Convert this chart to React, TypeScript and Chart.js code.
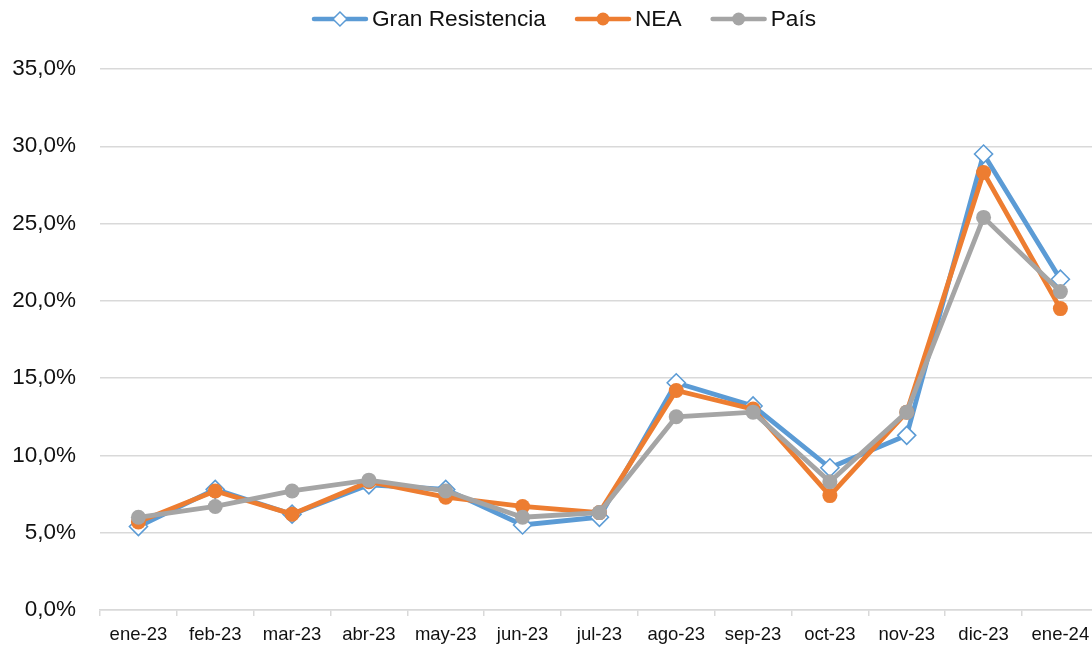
import React, { useEffect, useRef } from "react";
import { Chart, registerables } from "chart.js";

Chart.register(...registerables);

const categories = ["ene-23", "feb-23", "mar-23", "abr-23", "may-23", "jun-23", "jul-23", "ago-23", "sep-23", "oct-23", "nov-23", "dic-23", "ene-24"];
const granResistencia = [5.4, 7.8, 6.2, 8.1, 7.8, 5.5, 6.0, 14.7, 13.2, 9.2, 11.3, 29.5, 21.4];
const nea = [5.7, 7.7, 6.2, 8.3, 7.3, 6.7, 6.3, 14.2, 13.0, 7.4, 12.8, 28.3, 19.5];
const pais = [6.0, 6.7, 7.7, 8.4, 7.7, 6.0, 6.3, 12.5, 12.8, 8.3, 12.8, 25.4, 20.6];
const seriesNames = ["Gran Resistencia", "NEA", "País"];

const FONT = "'Liberation Sans', Arial, sans-serif";
const BLUE = "#5B9BD5";
const ORANGE = "#ED7D31";
const GRAY = "#A5A5A5";
const GRID = "#D9D9D9";
const TEXT = "#111111";

// The plot area of the reference continues a few pixels past the right edge of the picture.
const PLOT_RIGHT = 1098.8;
const PLOT_BOTTOM = 610;

const extendPlotPlugin = {
  id: "extendPlot",
  afterLayout(chart: any) {
    const x = chart.scales.x;
    const y = chart.scales.y;
    const xh = x.bottom - x.top;
    x.right = PLOT_RIGHT;
    x.width = x.right - x.left;
    x.top = PLOT_BOTTOM;
    x.bottom = PLOT_BOTTOM + xh;
    x.configure();
    y.bottom = PLOT_BOTTOM;
    y.height = y.bottom - y.top;
    y.configure();
    chart.chartArea.right = PLOT_RIGHT;
    chart.chartArea.width = PLOT_RIGHT - chart.chartArea.left;
    chart.chartArea.bottom = PLOT_BOTTOM;
    chart.chartArea.height = PLOT_BOTTOM - chart.chartArea.top;
  },
};

const legendPlugin = {
  id: "customLegend",
  afterDraw(chart: any) {
    const ctx = chart.ctx;
    ctx.save();
    ctx.font = `22.7px ${FONT}`;
    ctx.textBaseline = "middle";
    const sampleW = 56;
    const gapText = 4;
    const gapItem = 29;
    const items = chart.data.datasets.map((ds: any) => ({
      ds,
      w: ctx.measureText(ds.label).width,
    }));
    const total = items.reduce((s: number, it: any) => s + sampleW + gapText + it.w, 0) + gapItem * (items.length - 1);
    let x = 564 - total / 2;
    const y = 19;
    for (const it of items) {
      const ds = it.ds;
      ctx.strokeStyle = ds.borderColor;
      ctx.lineWidth = 4.5;
      ctx.lineCap = "round";
      ctx.beginPath();
      ctx.moveTo(x + 2, y);
      ctx.lineTo(x + sampleW - 2, y);
      ctx.stroke();
      const cx = x + sampleW / 2;
      if (ds.pointStyle === "rectRot") {
        const r = 7;
        ctx.beginPath();
        ctx.moveTo(cx, y - r);
        ctx.lineTo(cx + r, y);
        ctx.lineTo(cx, y + r);
        ctx.lineTo(cx - r, y);
        ctx.closePath();
        ctx.fillStyle = "#fff";
        ctx.fill();
        ctx.lineWidth = 1.5;
        ctx.strokeStyle = ds.borderColor;
        ctx.stroke();
      } else {
        ctx.beginPath();
        ctx.arc(cx, y, 6.5, 0, Math.PI * 2);
        ctx.fillStyle = ds.pointBackgroundColor;
        ctx.fill();
      }
      ctx.fillStyle = TEXT;
      ctx.textAlign = "left";
      ctx.fillText(ds.label, x + sampleW + gapText, y + 1);
      x += sampleW + gapText + it.w + gapItem;
    }
    ctx.restore();
  },
};

export default function App() {
  const ref = useRef<HTMLCanvasElement>(null);
  useEffect(() => {
    if (!ref.current) return;
    const chart = new Chart(ref.current, {
      type: "line",
      data: {
        labels: categories,
        datasets: [
          {
            label: seriesNames[0],
            data: granResistencia,
            borderColor: BLUE,
            backgroundColor: "#fff",
            borderWidth: 4.8,
            pointStyle: "rectRot",
            pointRadius: 9,
            pointBorderWidth: 1.6,
            pointBorderColor: BLUE,
            pointBackgroundColor: "#fff",
            tension: 0,
            clip: false,
            order: 2,
          },
          {
            label: seriesNames[1],
            data: nea,
            borderColor: ORANGE,
            backgroundColor: ORANGE,
            borderWidth: 4.8,
            pointStyle: "circle",
            pointRadius: 7.5,
            pointBorderWidth: 0,
            pointBackgroundColor: ORANGE,
            tension: 0,
            clip: false,
            order: 1,
          },
          {
            label: seriesNames[2],
            data: pais,
            borderColor: GRAY,
            backgroundColor: GRAY,
            borderWidth: 4.8,
            pointStyle: "circle",
            pointRadius: 7.5,
            pointBorderWidth: 0,
            pointBackgroundColor: GRAY,
            tension: 0,
            clip: false,
            order: 0,
          },
        ],
      },
      options: {
        animation: false,
        responsive: false,
        maintainAspectRatio: false,
        layout: { padding: { top: 69, right: 0, bottom: 0, left: 0 } },
        plugins: {
          legend: { display: false },
          tooltip: { enabled: false },
        },
        scales: {
          x: {
            offset: true,
            grid: {
              offset: true,
              drawOnChartArea: false,
              drawTicks: true,
              tickLength: 6,
              color: GRID,
              lineWidth: 1.5,
            },
            border: { display: true, color: GRID, width: 1.5 },
            ticks: {
              color: TEXT,
              font: { family: FONT, size: 18.5, lineHeight: 1 },
              padding: 10,
              maxRotation: 0,
              autoSkip: false,
            },
          },
          y: {
            min: 0,
            max: 35,
            afterFit: (scale: any) => {
              scale.width = 100;
            },
            grid: { color: GRID, lineWidth: 1.5, drawTicks: false },
            border: { display: false },
            ticks: {
              stepSize: 5,
              padding: 24,
              color: TEXT,
              font: { family: FONT, size: 22.5 },
              callback: (v: any) => Number(v).toFixed(1).replace(".", ",") + "%",
            },
          },
        },
      },
      plugins: [extendPlotPlugin, legendPlugin],
    });
    return () => chart.destroy();
  }, []);
  return (
    <div style={{ position: "fixed", left: 0, top: 0, width: 1092, height: 645, overflow: "hidden", background: "#fff" }}>
      <canvas ref={ref} width={1092} height={645} style={{ width: 1092, height: 645, display: "block" }} />
    </div>
  );
}
